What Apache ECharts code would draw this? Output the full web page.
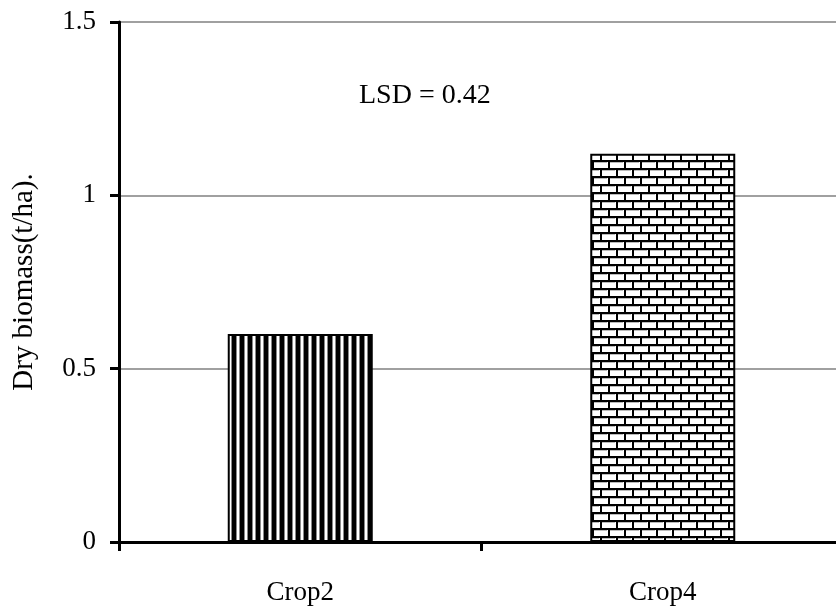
<!DOCTYPE html>
<html><head><meta charset="utf-8">
<script src="https://cdn.jsdelivr.net/npm/echarts@6/dist/echarts.min.js"></script>
<style>html,body{margin:0;padding:0;background:#fff;overflow:hidden;width:836px;height:613px}#c{width:852px;height:613px}</style>
</head><body><div id="c"></div>
<script>
const categories = ['Crop2', 'Crop4'];
const biomass = [0.6, 1.12];
const yTicks = [0, 0.5, 1, 1.5];
const lsdText = 'LSD = 0.42';
const yName = 'Dry biomass(t/ha).';

function stripes() {
  const c = document.createElement('canvas'); c.width = 8; c.height = 8;
  const g = c.getContext('2d');
  g.fillStyle = '#fff'; g.fillRect(0, 0, 8, 8);
  g.fillStyle = '#000'; g.fillRect(0, 0, 4, 8);
  g.fillStyle = '#888'; g.fillRect(4, 0, 1, 8); g.fillRect(7, 0, 1, 8);
  return c;
}
function bricks() {
  const w = 16, h = 16;
  const c = document.createElement('canvas'); c.width = w; c.height = h;
  const g = c.getContext('2d');
  g.fillStyle = '#fff'; g.fillRect(0, 0, w, h);
  g.fillStyle = '#000';
  g.fillRect(0, 0, w, 2); g.fillRect(0, 8, w, 2);
  g.fillRect(0, 0, 2, 8); g.fillRect(8, 8, 2, 8);
  g.fillStyle = '#bbb';
  g.fillRect(2, 2, 13, 1); g.fillRect(0, 10, 7, 1); g.fillRect(10, 10, 6, 1);
  return c;
}
const fonts = '"Liberation Serif", "DejaVu Serif", serif';
const chart = echarts.init(document.getElementById('c'));
chart.setOption({
  animation: false,
  backgroundColor: '#fff',
  grid: { left: 119, right: 8, top: 22, bottom: 71 },
  xAxis: {
    type: 'category', data: categories,
    axisLine: { lineStyle: { color: '#000', width: 3 } },
    axisTick: { show: true, length: 9, lineStyle: { color: '#000', width: 3 } },
    axisLabel: { color: '#000', fontFamily: fonts, fontSize: 27, margin: 37 }
  },
  yAxis: {
    type: 'value', min: yTicks[0], max: yTicks[yTicks.length - 1], interval: 0.5,
    name: yName, nameLocation: 'middle', nameGap: 80,
    nameTextStyle: { color: '#000', fontFamily: fonts, fontSize: 29 },
    axisLine: { show: true, lineStyle: { color: '#000', width: 3 } },
    axisTick: { show: true, length: 9, lineStyle: { color: '#000', width: 3 } },
    axisLabel: { color: '#000', fontFamily: fonts, fontSize: 27, margin: 23,
      formatter: v => String(v) },
    splitLine: { show: true, lineStyle: { color: '#808080', width: 1.5 } }
  },
  series: [{
    type: 'bar', barWidth: '40%',
    data: biomass.map((v, i) => ({
      value: v,
      itemStyle: {
        color: { image: i === 0 ? stripes() : bricks(), repeat: 'repeat' },
        borderColor: '#000', borderWidth: 2
      }
    }))
  }],
  graphic: [{
    type: 'text', left: 359, top: 82,
    style: { text: lsdText, fill: '#000', font: '28px ' + fonts }
  }]
});
</script></body></html>
